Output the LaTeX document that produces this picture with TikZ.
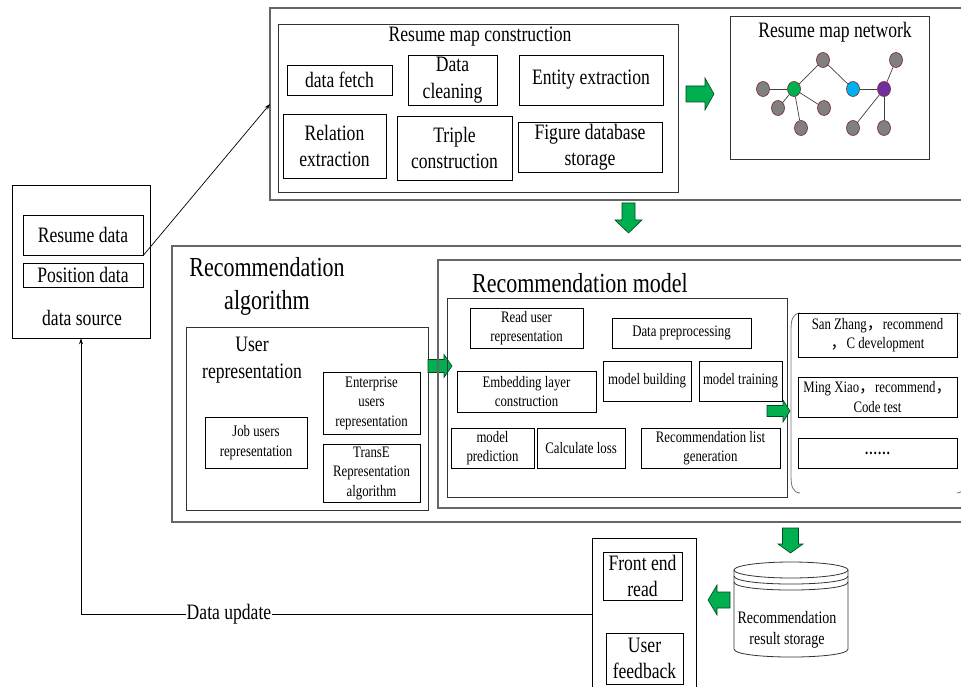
\documentclass[tikz,border=0pt]{standalone}
\usepackage{fontspec}
\setmainfont{Liberation Serif}[FakeStretch=0.8]
\newfontfamily\cjkfont{Noto Sans CJK SC}
\usetikzlibrary{shapes.geometric,arrows.meta}
\definecolor{ggreen}{RGB}{0,176,80}
\definecolor{ngray}{RGB}{128,128,128}
\definecolor{nred}{RGB}{120,40,40}
\definecolor{ncyan}{RGB}{0,176,240}
\definecolor{npurple}{RGB}{112,48,160}
\newcommand\GArrow[7]{% cx, cy, angle, length, width, shaft width, head length
  \begin{scope}[shift={(#1,#2)}, rotate=#3]
    \filldraw[garrow] ({-#4/2},{-#6/2}) -- ({#4/2-#7},{-#6/2}) -- ({#4/2-#7},{-#5/2}) -- ({#4/2},0) -- ({#4/2-#7},{#5/2}) -- ({#4/2-#7},{#6/2}) -- ({-#4/2},{#6/2}) -- cycle;
  \end{scope}}
\begin{document}
\begin{tikzpicture}[x=1pt,y=-1pt,
  box/.style={draw=black, line width=0.7pt, inner sep=1pt, align=center},
  midbox/.style={draw=black!80, line width=1pt, inner sep=0pt},
  outer/.style={draw=black!60, line width=1.4pt},
  txt/.style={inner sep=0pt, align=center},
  sm/.style={font=\fontsize{16}{19.5}\selectfont},
  cy/.style={font=\fontsize{17.5}{20.5}\selectfont},
  md/.style={font=\fontsize{22}{26.5}\selectfont},
  lg/.style={font=\fontsize{27.5}{33}\selectfont},
  garrow/.style={fill=ggreen, draw=black!60!ggreen, line width=0.6pt},
  nnode/.style={ellipse, draw=nred, line width=0.6pt, fill=ngray, minimum width=13pt, minimum height=15pt, inner sep=0pt},
  nedge/.style={draw=black!75, line width=0.7pt},
  conn/.style={draw=black, line width=0.7pt},
  cyl/.style={draw=black!80, line width=0.8pt}]
\useasboundingbox (0,0) rectangle (961,687);

% ---------- top section ----------
\draw[outer] (961,8) -- (270,8) -- (270,200) -- (961,200);
\node[midbox, minimum width=400pt, minimum height=168pt] (rmc) at (478,109) {};
\node[txt, md] (rmct) at (480,37) {Resume map construction};
\node[box, md, minimum width=105pt, minimum height=30pt] (fetch) at (339.5,80) {data fetch};
\node[box, md, minimum width=89pt, minimum height=50pt] (clean) at (452.5,80) {Data\\cleaning};
\node[box, md, minimum width=144pt, minimum height=50pt] (entity) at (591,80) {Entity extraction};
\node[box, md, minimum width=103pt, minimum height=64pt] (rel) at (334.5,146) {Relation\\extraction};
\node[box, md, minimum width=115pt, minimum height=64pt] (triple) at (454.5,148) {Triple\\construction};
\node[box, md, minimum width=144pt, minimum height=50pt] (figdb) at (590,147) {Figure database\\storage};

\GArrow{700}{94}{0}{28}{32}{16}{9}

\node[midbox, minimum width=199pt, minimum height=143pt] (net) at (829.5,88.5) {};
\node[txt, md] (nett) at (835,32) {Resume map network};
\node[nnode] (n1) at (763,89) {};
\node[nnode, fill=ggreen] (n2) at (794,89) {};
\node[nnode] (n3) at (823,60) {};
\node[nnode] (n4) at (778,108) {};
\node[nnode] (n5) at (824,108) {};
\node[nnode] (n6) at (801,128) {};
\node[nnode, fill=ncyan] (n7) at (853,89) {};
\node[nnode, fill=npurple] (n8) at (884,89) {};
\node[nnode] (n9) at (896,60) {};
\node[nnode] (n10) at (853,128) {};
\node[nnode] (n11) at (884,128) {};
\draw[nedge] (n1) -- (n2);
\draw[nedge] (n2) -- (n3);
\draw[nedge] (n3) -- (n7);
\draw[nedge] (n7) -- (n8);
\draw[nedge] (n8) -- (n9);
\draw[nedge] (n8) -- (n10);
\draw[nedge] (n8) -- (n11);
\draw[nedge] (n2) -- (n4);
\draw[nedge] (n2) -- (n5);
\draw[nedge] (n2) -- (n6);

\GArrow{628.5}{218}{-90}{30}{27}{13}{13}

% ---------- data source ----------
\node[box, minimum width=138pt, minimum height=153pt] (src) at (81,261.5) {};
\node[box, md, minimum width=120pt, minimum height=40pt] (rd) at (83,235) {Resume data};
\node[box, md, minimum width=120pt, minimum height=24pt] (pd) at (83,275) {Position data};
\node[txt, md] (srct) at (82,318) {data source};
\coordinate (topin) at (270,104);
\draw[conn, -{Stealth[length=6pt,width=4pt]}] (rd.south east) -- (topin);

% ---------- recommendation algorithm ----------
\draw[outer] (961,246) -- (172,246) -- (172,522) -- (961,522);
\node[txt, lg] (algt) at (267,286) {Recommendation\\algorithm};
\node[midbox, minimum width=242pt, minimum height=183pt] (user) at (307,418.5) {};
\node[txt, md] (usert) at (252,360) {User\\representation};
\node[box, sm, minimum width=102pt, minimum height=51pt] (job) at (256,442.5) {Job users\\representation};
\node[box, sm, minimum width=97pt, minimum height=62pt] (ent) at (371.5,403) {Enterprise\\users\\representation};
\node[box, sm, minimum width=97pt, minimum height=58pt] (transe) at (371.5,473) {TransE\\Representation\\algorithm};

\GArrow{440}{366}{0}{24}{23}{13}{8}

\draw[outer] (961,260) -- (438,260) -- (438,508) -- (961,508);
\node[txt, lg] (modt) at (580,283) {Recommendation model};
\node[midbox, minimum width=340pt, minimum height=199pt] (model) at (617,397.5) {};
\node[box, sm, minimum width=113pt, minimum height=40pt] (read) at (526.5,328) {Read user\\representation};
\node[box, sm, minimum width=139pt, minimum height=30pt] (prep) at (681.5,333) {Data preprocessing};
\node[box, sm, minimum width=139pt, minimum height=41pt] (embed) at (526.5,391.5) {Embedding layer\\construction};
\node[box, sm, minimum width=88pt, minimum height=40pt, inner sep=0pt] (mbuild) at (647,381) {model building};
\node[box, sm, minimum width=83pt, minimum height=40pt, inner sep=0pt] (mtrain) at (740.5,381) {model training};
\node[box, sm, minimum width=83pt, minimum height=40pt] (mpred) at (492.5,448) {model\\prediction};
\node[box, sm, minimum width=88pt, minimum height=40pt] (loss) at (581,448) {Calculate loss};
\node[box, sm, minimum width=139pt, minimum height=40pt] (rlist) at (710.5,448) {Recommendation list\\generation};

\GArrow{778.5}{411}{0}{23}{22}{11}{7}

\draw[black!55, line width=0.8pt] (800,313) .. controls (792,314) and (791,320) .. (791,332) -- (791,474) .. controls (791,486) and (792,492) .. (800,493);
\draw[black!55, line width=0.8pt] (957,313) .. controls (965,314) and (966,320) .. (966,332) -- (966,474) .. controls (966,486) and (965,492) .. (957,493);
\node[box, sm, minimum width=159pt, minimum height=44pt] (res1) at (877.5,335) {San Zhang{\cjkfont ，}recommend\\{\cjkfont ，}C development};
\node[box, sm, minimum width=159pt, minimum height=40pt] (res2) at (877.5,397) {Ming Xiao{\cjkfont ，}recommend{\cjkfont ，}\\Code test};
\node[box, sm, minimum width=159pt, minimum height=30pt] (res3) at (877.5,453) {\textbf{……}};

% ---------- bottom ----------
\GArrow{790.5}{540.5}{-90}{25}{25}{16}{9}

\draw[cyl, fill=white] (734,570) -- (734,649) .. controls (734,659.7) and (848,659.7) .. (848,649) -- (848,570);
\draw[cyl, fill=white] (791,570) ellipse [x radius=57pt, y radius=8pt];
\draw[cyl] (734,576) .. controls (734,586.7) and (848,586.7) .. (848,576);
\draw[cyl] (734,582) .. controls (734,592.7) and (848,592.7) .. (848,582);
\node[txt, cy] (store) at (787,630) {Recommendation\\result storage};

\GArrow{719}{600}{180}{22}{30}{16}{9}

\draw[box] (592,690) -- (592,538) -- (696,538) -- (696,690);
\coordinate (fbl) at (592,614);
\node[box, md, minimum width=79pt, minimum height=48pt] (fe) at (642.5,576) {Front end\\read};
\node[box, md, minimum width=77pt, minimum height=51pt] (fb) at (644.5,658.5) {User\\feedback};

\draw[conn, -{Stealth[length=6pt,width=4pt]}] (fbl) -| (src.south);
\node[txt, md, fill=white, inner xsep=1pt] (du) at (229,614) {Data update};
\end{tikzpicture}
\end{document}
